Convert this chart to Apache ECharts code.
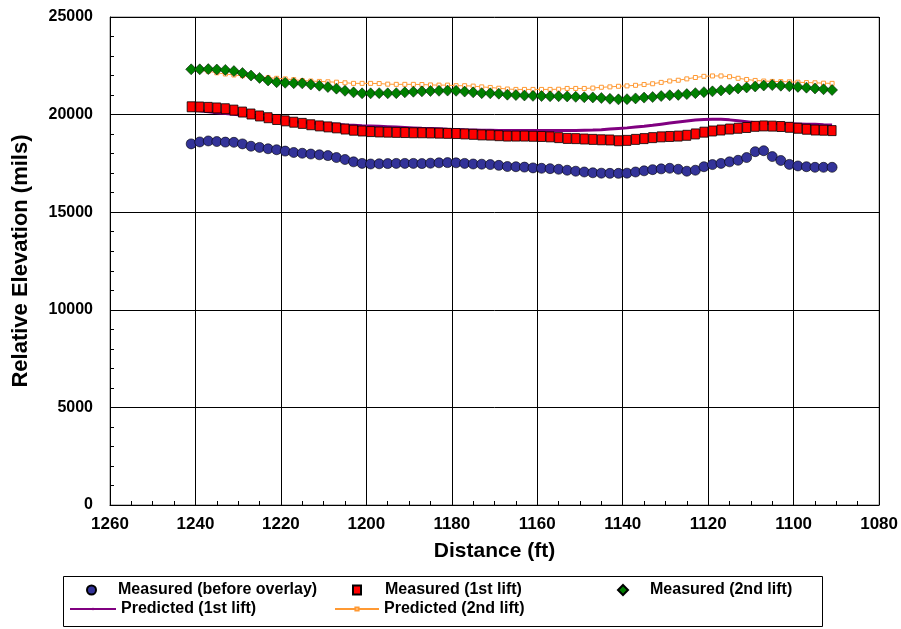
<!DOCTYPE html>
<html>
<head>
<meta charset="utf-8">
<title>Relative Elevation vs Distance</title>
<script src="https://cdn.jsdelivr.net/npm/echarts@6/dist/echarts.min.js"></script>
<style>
  html, body { margin: 0; padding: 0; background: #fff; }
  #chart { width: 901px; height: 629px; }
</style>
</head>
<body>
<div id="chart"></div>
<script>
// Station distance (ft) for every reading
var distance = [
  1241, 1239, 1237, 1235, 1233, 1231, 1229, 1227, 1225, 1223,
  1221, 1219, 1217, 1215, 1213, 1211, 1209, 1207, 1205, 1203,
  1201, 1199, 1197, 1195, 1193, 1191, 1189, 1187, 1185, 1183,
  1181, 1179, 1177, 1175, 1173, 1171, 1169, 1167, 1165, 1163,
  1161, 1159, 1157, 1155, 1153, 1151, 1149, 1147, 1145, 1143,
  1141, 1139, 1137, 1135, 1133, 1131, 1129, 1127, 1125, 1123,
  1121, 1119, 1117, 1115, 1113, 1111, 1109, 1107, 1105, 1103,
  1101, 1099, 1097, 1095, 1093, 1091
];

// Relative elevation (mils)
var measuredBefore = [
  18500, 18600, 18650, 18620, 18590, 18580, 18500, 18380, 18320, 18250,
  18200, 18130, 18060, 18020, 17980, 17940, 17900, 17800, 17700, 17580,
  17500, 17470, 17480, 17490, 17500, 17500, 17500, 17490, 17510, 17530,
  17540, 17530, 17500, 17470, 17460, 17440, 17400, 17340, 17330, 17310,
  17270, 17250, 17230, 17200, 17150, 17100, 17060, 17020, 17000, 16990,
  16990, 17000, 17060, 17120, 17180, 17220, 17250, 17200, 17100, 17150,
  17330, 17440, 17500, 17580, 17660, 17800, 18100, 18150, 17850, 17650,
  17450, 17370, 17330, 17300, 17300, 17300
];
var measured1st = [
  20400, 20390, 20370, 20340, 20300, 20230, 20130, 20030, 19930, 19840,
  19750, 19680, 19610, 19550, 19480, 19420, 19370, 19320, 19260, 19200,
  19160, 19130, 19110, 19100, 19090, 19080, 19070, 19070, 19060, 19050,
  19040, 19030, 19010, 18990, 18960, 18950, 18920, 18900, 18900, 18900,
  18890, 18880, 18860, 18820, 18780, 18770, 18750, 18730, 18710, 18700,
  18660, 18680, 18730, 18770, 18820, 18860, 18880, 18900, 18940, 19010,
  19100, 19160, 19210, 19260, 19300, 19340, 19400, 19420, 19410, 19390,
  19350, 19300, 19250, 19210, 19200, 19180
];
var measured2nd = [
  22320, 22320, 22330, 22310, 22290, 22230, 22130, 22000, 21880, 21750,
  21660, 21630, 21610, 21600, 21540, 21480, 21410, 21330, 21220, 21140,
  21090, 21090, 21100, 21090, 21100, 21140, 21170, 21190, 21210, 21220,
  21230, 21220, 21180, 21140, 21100, 21090, 21070, 21020, 21000, 20980,
  20960, 20950, 20940, 20940, 20930, 20910, 20890, 20880, 20850, 20810,
  20780, 20790, 20830, 20870, 20900, 20950, 20990, 21010, 21050, 21100,
  21150, 21190, 21240, 21290, 21340, 21390, 21440, 21490, 21510, 21480,
  21450, 21420, 21380, 21340, 21300, 21260
];
var predicted1st = [
  20250, 20200, 20150, 20100, 20060, 20020, 19970, 19910, 19850, 19790,
  19730, 19680, 19640, 19600, 19570, 19550, 19530, 19500, 19470, 19450,
  19430, 19420, 19400, 19380, 19360, 19340, 19320, 19300, 19290, 19270,
  19250, 19240, 19220, 19210, 19200, 19200, 19190, 19180, 19180, 19180,
  19180, 19180, 19180, 19180, 19180, 19190, 19200, 19210, 19230, 19260,
  19290, 19320, 19360, 19400, 19450, 19510, 19570, 19620, 19670, 19720,
  19750, 19760, 19760, 19730, 19690, 19640, 19580, 19550, 19540, 19530,
  19530, 19520, 19510, 19500, 19480, 19470
];
var predicted2nd = [
  22280, 22260, 22220, 22140, 22080, 22030, 21990, 21950, 21920, 21890,
  21860, 21830, 21790, 21740, 21720, 21700, 21680, 21660, 21630, 21600,
  21600, 21600, 21590, 21560, 21550, 21550, 21550, 21540, 21520, 21510,
  21510, 21480, 21480, 21460, 21420, 21390, 21350, 21310, 21290, 21290,
  21290, 21290, 21290, 21300, 21340, 21340, 21340, 21360, 21400, 21420,
  21450, 21470, 21500, 21540, 21580, 21650, 21720, 21760, 21830, 21900,
  21960, 21980, 21980, 21940, 21860, 21800, 21750, 21720, 21700, 21690,
  21680, 21660, 21640, 21630, 21610, 21600
];

var seriesNames = [
  'Measured (before overlay)',
  'Measured (1st lift)',
  'Measured (2nd lift)',
  'Predicted (1st lift)',
  'Predicted (2nd lift)'
];

function pairs(values) {
  return distance.map(function (d, i) { return [d, values[i]]; });
}

var FONT = '"Liberation Sans", Arial, sans-serif';
var chart = echarts.init(document.getElementById('chart'), null, { renderer: 'canvas' });

// one legend block per entry so each sits in its own column
function legendAt(name, left, top, w, h, textShift) {
  return {
    data: [name],
    left: left,
    top: top,
    padding: 0,
    itemWidth: w,
    itemHeight: h,
    selectedMode: false,
    textStyle: {
      fontFamily: FONT, fontSize: 16, fontWeight: 'bold', color: '#000',
      lineHeight: 18, padding: [0, 0, 0, textShift]
    }
  };
}

function plainNumber(v) { return String(v); }

var option = {
  backgroundColor: '#fff',
  animation: false,
  grid: {
    left: 110, right: 21, top: 17, bottom: 124,
    show: true, borderColor: '#808080', borderWidth: 1, backgroundColor: '#fff'
  },
  xAxis: {
    type: 'value',
    inverse: true,
    min: 1080, max: 1260, interval: 20,
    name: 'Distance (ft)',
    nameLocation: 'middle',
    nameGap: 36,
    nameTextStyle: { fontFamily: FONT, fontSize: 21, fontWeight: 'bold', color: '#000' },
    axisLine: { show: true, onZero: false, lineStyle: { color: '#000', width: 1 } },
    axisTick: { show: true, inside: true, length: 5, lineStyle: { color: '#000' } },
    minorTick: { show: true, splitNumber: 4, length: 4, lineStyle: { color: '#000' } },
    axisLabel: { margin: 11, fontFamily: FONT, fontSize: 17, fontWeight: 'bold', color: '#000', formatter: plainNumber },
    splitLine: { show: true, lineStyle: { color: '#000', width: 1 } }
  },
  yAxis: {
    type: 'value',
    min: 0, max: 25000, interval: 5000,
    name: 'Relative Elevation (mils)',
    nameLocation: 'middle',
    nameGap: 78,
    nameTextStyle: { fontFamily: FONT, fontSize: 22, fontWeight: 'bold', color: '#000' },
    axisLine: { show: true, lineStyle: { color: '#000', width: 1 } },
    axisTick: { show: true, inside: true, length: 5, lineStyle: { color: '#000' } },
    minorTick: { show: true, splitNumber: 5, length: 4, lineStyle: { color: '#000' } },
    axisLabel: { margin: 17, fontFamily: FONT, fontSize: 16, fontWeight: 'bold', color: '#000', formatter: plainNumber },
    splitLine: { show: true, lineStyle: { color: '#000', width: 1 } }
  },
  legend: [
    legendAt(seriesNames[0], 86, 581, 9, 9, 17),
    legendAt(seriesNames[1], 352, 581, 8, 9, 19),
    legendAt(seriesNames[2], 617, 581, 10, 10, 17),
    legendAt(seriesNames[3], 69, 600, 46, 3, 0),
    legendAt(seriesNames[4], 334, 600, 44, 4, 0)
  ],
  graphic: [{
    type: 'rect',
    shape: { x: 63.5, y: 576.5, width: 759, height: 50 },
    style: { fill: 'none', stroke: '#000', lineWidth: 1 },
    z: -1
  }],
  series: [
    {
      name: seriesNames[3],
      type: 'line',
      data: pairs(predicted1st),
      symbol: 'none',
      lineStyle: { color: '#800080', width: 3 },
      itemStyle: { color: '#800080' },
      z: 2
    },
    {
      name: seriesNames[4],
      type: 'line',
      data: pairs(predicted2nd),
      symbol: 'rect',
      symbolSize: 4,
      showSymbol: true,
      lineStyle: { color: '#FF9933', width: 1 },
      itemStyle: { color: '#fff', borderColor: '#FF9933', borderWidth: 1 },
      z: 2
    },
    {
      name: seriesNames[0],
      type: 'scatter',
      data: pairs(measuredBefore),
      symbol: 'circle',
      symbolSize: 10,
      itemStyle: { color: '#333399', borderColor: '#000', borderWidth: 0.6, opacity: 1 },
      z: 3
    },
    {
      name: seriesNames[1],
      type: 'scatter',
      data: pairs(measured1st),
      symbol: 'rect',
      symbolSize: [8, 10],
      itemStyle: { color: '#FF0000', borderColor: '#000', borderWidth: 0.8, opacity: 1 },
      z: 3
    },
    {
      name: seriesNames[2],
      type: 'scatter',
      data: pairs(measured2nd),
      symbol: 'diamond',
      symbolSize: 11,
      itemStyle: { color: '#008000', borderColor: '#000', borderWidth: 0.5, opacity: 1 },
      z: 3
    }
  ]
};

chart.setOption(option);
</script>
</body>
</html>
